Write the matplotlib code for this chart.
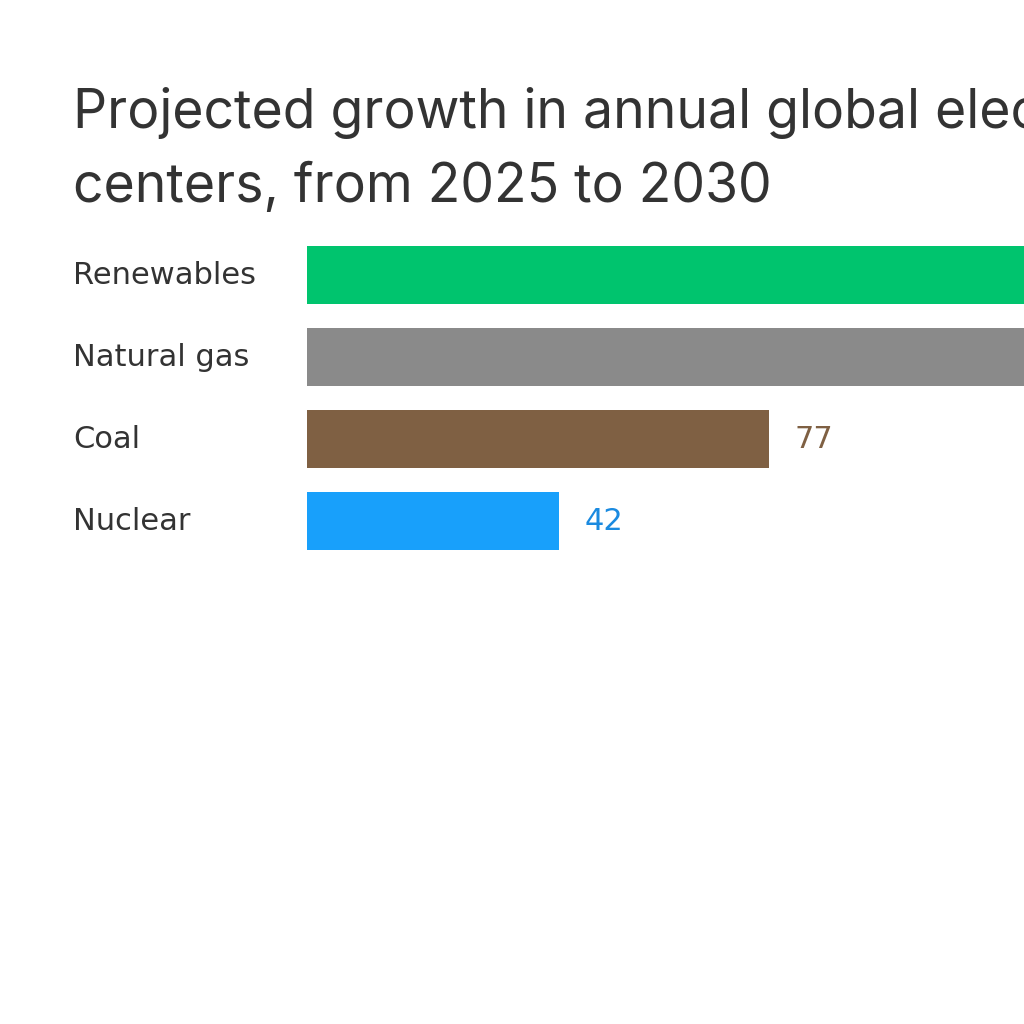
import matplotlib
matplotlib.use("Agg")
import matplotlib.pyplot as plt

# data (renewables and gas run past the crop, values estimated)
categories = ["Renewables", "Natural gas", "Coal", "Nuclear"]
values = [450, 175, 77, 42]
colors = ["#00c46e", "#8a8a8a", "#7f6043", "#18a0fb"]
label_colors = ["#00a35c", "#6f6f6f", "#7f6043", "#1a8ae0"]
title_lines = ["Projected growth in annual global electricity demand from data",
               "centers, from 2025 to 2030"]

fig = plt.figure(figsize=(10.24, 10.24), dpi=100)
fig.patch.set_facecolor("white")

# axes starts where bars start; right side is cropped at figure edge
ax = fig.add_axes([307 / 1024, 1 - 562 / 1024, 1 - 307 / 1024, 328 / 1024])
xmax = (1024 - 307) / 6.0
ax.set_xlim(0, xmax)
ax.set_ylim(len(categories) - 0.5, -0.5)

ypos = list(range(len(categories)))
ax.barh(ypos, values, height=0.71, color=colors, clip_on=True)

# value labels only where they fit inside the visible area
for y, v, c in zip(ypos, values, label_colors):
    if v + 10 < xmax:
        ax.text(v + 4.2, y, str(v), va="center", ha="left", fontsize=22,
                color=c, family="DejaVu Sans")

for y, cat in zip(ypos, categories):
    ax.text(73 / 1024, ax.transData.transform((0, y))[1] / 1024, cat,
            transform=fig.transFigure, va="center", ha="left",
            fontsize=22, color="#333333", family="DejaVu Sans")

ax.axis("off")

for i, line in enumerate(title_lines):
    fig.text(73 / 1024, 1 - (128 + 74 * i) / 1024, line, ha="left",
             va="baseline", fontsize=38.5, color="#333333", family="Inter")

fig.savefig("out.png", dpi=100, facecolor="white")
